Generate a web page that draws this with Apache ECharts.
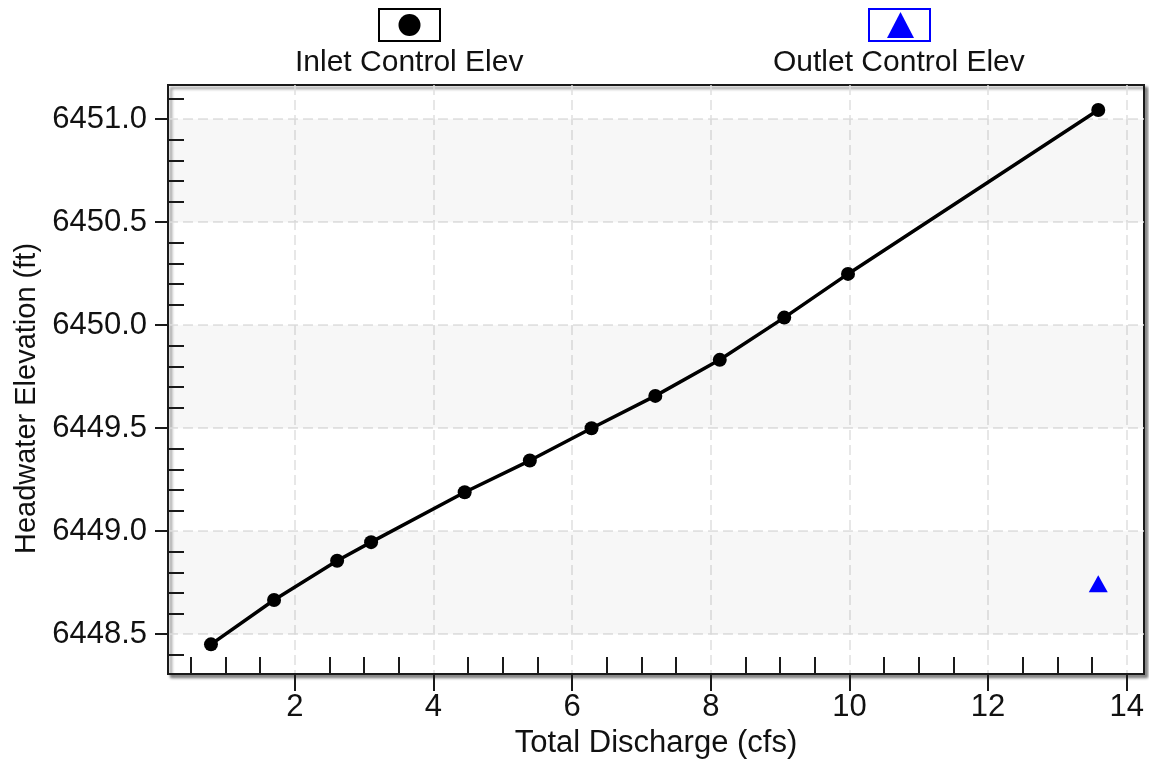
<!DOCTYPE html>
<html><head><meta charset="utf-8">
<script src="https://cdn.jsdelivr.net/npm/echarts@6/dist/echarts.min.js"></script>
<style>html,body{margin:0;padding:0;background:#fff}#chart{width:1149px;height:769px}</style>
</head><body><div id="chart"></div>
<script>
// ---- data ----
const inletName = 'Inlet Control Elev';
const outletName = 'Outlet Control Elev';
const inletX = [0.79, 1.70, 2.61, 3.10, 4.45, 5.39, 6.28, 7.20, 8.13, 9.06, 9.98, 13.59];
const inletY = [6448.451, 6448.666, 6448.857, 6448.947, 6449.189, 6449.343, 6449.500, 6449.657, 6449.832, 6450.037, 6450.249, 6451.045];
const outletX = [13.59];
const outletY = [6448.745];
const xMajorTicks = [2, 4, 6, 8, 10, 12, 14];
const xMinorTicks = [0.5, 1, 1.5, 2.5, 3, 3.5, 4.5, 5, 5.5, 6.5, 7, 7.5, 8.5, 9, 9.5, 10.5, 11, 11.5, 12.5, 13, 13.5];
const yMajorTicks = [6448.5, 6449.0, 6449.5, 6450.0, 6450.5, 6451.0];
const yMinorTicks = [6448.4, 6448.6, 6448.7, 6448.8, 6448.9, 6449.1, 6449.2, 6449.3, 6449.4, 6449.6, 6449.7, 6449.8, 6449.9,
  6450.1, 6450.2, 6450.3, 6450.4, 6450.6, 6450.7, 6450.8, 6450.9, 6451.1];
const bands = [[6448.5, 6449.0], [6449.5, 6450.0], [6450.5, 6451.0]];
const xRange = [0.17, 14.25];
const yRange = [6448.307, 6451.166];

// ---- chart ----
const FONT = "'Liberation Sans', Arial, sans-serif";
const TXT = '#111';
const inletIcon = 'image://data:image/svg+xml;utf8,' + encodeURIComponent(
  '<svg xmlns="http://www.w3.org/2000/svg" width="63" height="34" viewBox="0 0 63 34">' +
  '<rect x="1" y="1" width="61" height="32" fill="#fff" stroke="#000" stroke-width="2"/>' +
  '<circle cx="31.5" cy="17" r="11" fill="#000"/></svg>');
const outletIcon = 'image://data:image/svg+xml;utf8,' + encodeURIComponent(
  '<svg xmlns="http://www.w3.org/2000/svg" width="63" height="34" viewBox="0 0 63 34">' +
  '<rect x="1" y="1" width="61" height="32" fill="#fff" stroke="#0000ff" stroke-width="2"/>' +
  '<polygon points="19,30 32.5,4 46,30" fill="#0000ff"/></svg>');

function legendFor(name, icon, left, shift) {
  return {
    data: [{name: name, icon: icon}],
    left: left, top: 8, padding: 0, itemGap: 0,
    itemWidth: 63, itemHeight: 34,
    selectedMode: false,
    formatter: '{t|{name}}',
    textStyle: {
      color: TXT, fontFamily: FONT, fontSize: 30,
      rich: { t: { color: TXT, fontFamily: FONT, fontSize: 30, padding: [38, shift, -38, -shift] } }
    }
  };
}

const option = {
  animation: false,
  backgroundColor: '#fff',
  textStyle: { fontFamily: FONT },
  legend: [
    legendFor(inletName, inletIcon, 295, 151),
    legendFor(outletName, outletIcon, 773, 163)
  ],
  grid: {
    left: 168, right: 5, top: 85, bottom: 95,
    show: true, backgroundColor: '#fff',
    borderColor: '#1a1a1a', borderWidth: 2,
    shadowColor: 'rgba(0,0,0,0.45)', shadowBlur: 3, shadowOffsetX: 3, shadowOffsetY: 3
  },
  xAxis: [
    {
      type: 'value', min: xRange[0], max: xRange[1], position: 'bottom',
      name: 'Total Discharge (cfs)', nameLocation: 'middle', nameGap: 54,
      nameTextStyle: { color: TXT, fontFamily: FONT, fontSize: 31 },
      axisLine: { show: true, onZero: false, lineStyle: { color: '#1a1a1a', width: 2 } },
      axisTick: { show: true, inside: false, length: 17, customValues: xMajorTicks, lineStyle: { color: '#1a1a1a', width: 2 } },
      axisLabel: { show: true, margin: 18, customValues: xMajorTicks, color: TXT, fontFamily: FONT, fontSize: 31 },
      splitLine: { show: true, lineStyle: { color: '#e0e0e0', width: 1.5, type: [10, 5] } }
    },
    {
      type: 'value', min: xRange[0], max: xRange[1], position: 'bottom',
      axisLine: { show: false, onZero: false },
      axisTick: { show: true, inside: true, length: 17, customValues: xMinorTicks, lineStyle: { color: '#1a1a1a', width: 2 } },
      axisLabel: { show: false },
      splitLine: { show: false }
    }
  ],
  yAxis: [
    {
      type: 'value', min: yRange[0], max: yRange[1], position: 'left',
      name: 'Headwater Elevation (ft)', nameLocation: 'middle', nameGap: 117,
      nameTextStyle: { color: TXT, fontFamily: FONT, fontSize: 29, padding: [0, 38, 0, 0] },
      axisLine: { show: true, onZero: false, lineStyle: { color: '#1a1a1a', width: 2 } },
      axisTick: { show: true, inside: false, length: 13, customValues: yMajorTicks, lineStyle: { color: '#1a1a1a', width: 2 } },
      axisLabel: { show: true, margin: 21, customValues: yMajorTicks, color: TXT, fontFamily: FONT, fontSize: 31,
        formatter: v => Number(v).toFixed(1) },
      splitLine: { show: true, lineStyle: { color: '#e0e0e0', width: 1.5, type: [10, 5] } }
    },
    {
      type: 'value', min: yRange[0], max: yRange[1], position: 'left',
      axisLine: { show: false, onZero: false },
      axisTick: { show: true, inside: true, length: 16, customValues: yMinorTicks, lineStyle: { color: '#1a1a1a', width: 2 } },
      axisLabel: { show: false },
      splitLine: { show: false }
    }
  ],
  series: [
    {
      name: inletName, type: 'line', xAxisIndex: 0, yAxisIndex: 0,
      data: inletX.map((x, i) => [x, inletY[i]]),
      symbol: 'circle', symbolSize: 14, showSymbol: true,
      lineStyle: { color: '#000', width: 3.5 },
      itemStyle: { color: '#000', opacity: 1 },
      z: 5,
      markArea: {
        silent: true,
        itemStyle: { color: 'rgba(0,0,0,0.03)' },
        data: bands.map(b => [{ yAxis: b[0] }, { yAxis: b[1] }])
      }
    },
    {
      name: outletName, type: 'scatter', xAxisIndex: 0, yAxisIndex: 0,
      data: outletX.map((x, i) => [x, outletY[i]]),
      symbol: 'triangle', symbolSize: [19, 17],
      itemStyle: { color: '#0000ff', opacity: 1 },
      z: 6
    }
  ]
};
const chart = echarts.init(document.getElementById('chart'));
chart.setOption(option);
</script>
</body></html>
